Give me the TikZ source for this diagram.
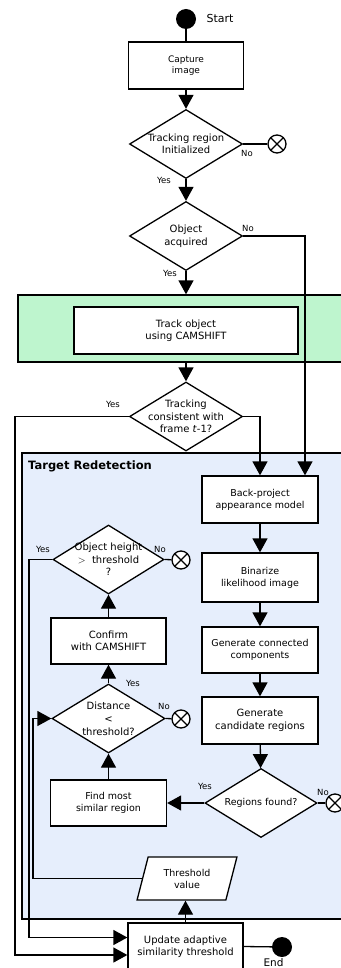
\documentclass[tikz,border=0pt]{standalone}
\usepackage{fontspec}
\setmainfont{DejaVu Sans}
\usetikzlibrary{arrows.meta,shapes.geometric}

\definecolor{zonegreen}{RGB}{190,245,206}
\definecolor{zoneblue}{RGB}{230,238,252}

\tikzset{
  link/.style={line width=1.3pt},
  flow/.style={line width=1.3pt, -{Triangle[length=14pt,width=15pt]}},
  stepbox/.style={draw, line width=1.3pt, fill=white, minimum width=116pt, minimum height=47pt,
    inner sep=0pt, align=center, font=\fontsize{9.5}{12}\selectfont},
  test/.style={draw, diamond, line width=1.3pt, fill=white, minimum width=113pt, minimum height=69pt,
    inner sep=0pt},
  testtext/.style={align=center, font=\fontsize{10}{12.5}\selectfont},
  term/.style={circle, fill=black, minimum size=20pt, inner sep=0pt},
  stopx/.style={circle, draw, line width=1.3pt, fill=white, minimum size=18pt, inner sep=0pt,
    path picture={\draw[line width=1.3pt]
      (path picture bounding box.north west) -- (path picture bounding box.south east)
      (path picture bounding box.north east) -- (path picture bounding box.south west);}},
  answer/.style={font=\fontsize{8.5}{9}\selectfont, inner sep=0pt},
}

\begin{document}
\begin{tikzpicture}[x=1pt, y=-1pt]
			\useasboundingbox (0,0) rectangle (340,968);

			% zones
			\node (trackzone) [draw, line width=1.3pt, fill=zonegreen, minimum width=332pt, minimum height=67pt] at (184,328.5) {};
			\node (redetect) [draw, line width=1.3pt, fill=zoneblue, minimum width=328pt, minimum height=466pt] at (186,686) {};
			\node (redetect-title) [anchor=west, inner sep=0pt, font=\fontsize{11.5}{13}\selectfont\bfseries] at (28,466) {Target Redetection};

			% main column
			\node (start) [term] at (186,19) {};
			\node (start-lbl) [font=\fontsize{11}{13}\selectfont] at (220,18) {Start};
			\node (capture) [stepbox, font=\fontsize{9}{11.5}\selectfont, minimum width=115pt] at (186,65.5) {Capture\\image};
			\node (d1) [test] at (186,144) {};
			\node (d1-txt) [testtext] at (d1) {Tracking region\\Initialized};
			\node (x1) [stopx] at (277,144) {};
			\node (d2) [test] at (186,236) {};
			\node (d2-txt) [testtext] at (d2) {Object\\acquired};
			\node (track) [stepbox, minimum width=224pt, font=\fontsize{10}{12.5}\selectfont] at (186,330.5) {Track object\\using CAMSHIFT};
			\node (d3) [test] at (186,416.5) {};
			\node (d3-txt) [testtext] at (d3) {Tracking\\consistent with\\frame \textit{t}-1?};
			\node (update) [stepbox, minimum width=115pt, font=\fontsize{10}{12.5}\selectfont] at (185.5,946.5) {Update adaptive\\similarity threshold};
			\node (end) [term] at (282,947) {};
			\node (end-lbl) [font=\fontsize{10.5}{12}\selectfont] at (273.5,963) {End};

			% right column
			\node (backproj) [stepbox] at (260,499.5) {Back-project\\appearance model};
			\node (binarize) [stepbox, minimum height=49pt] at (260,577.5) {Binarize\\likelihood image};
			\node (connected) [stepbox, minimum height=46pt] at (260,650) {Generate connected\\components};
			\node (candidate) [stepbox, font=\fontsize{10}{12.5}\selectfont] at (260,720.5) {Generate\\candidate regions};
			\node (d4) [test, minimum width=112pt] at (261,803) {};
			\node (d4-txt) [testtext, font=\fontsize{9.5}{12}\selectfont] at (d4) {Regions found?};
			\node (x4) [stopx] at (335,803) {};

			% left column
			\node (find) [stepbox, minimum height=46pt] at (108.5,803) {Find most\\similar region};
			\node (d5) [test] at (108.5,718.5) {};
			\node (d5-txt) [testtext, font=\fontsize{10}{13}\selectfont] at (d5) {Distance\\<\\threshold?};
			\node (x5) [stopx] at (181,719) {};
			\node (confirm) [stepbox, minimum width=115pt, minimum height=46pt, font=\fontsize{10}{12.5}\selectfont] at (108.5,641) {Confirm\\with CAMSHIFT};
			\node (d6) [test, minimum width=111pt] at (108.5,559.5) {};
			\node (d6-txt) [testtext] at (d6) {Object height\\$>$\ \ threshold\\?};
			\node (x6) [stopx] at (181,560) {};
			\node (thresh) [draw, line width=1.3pt, fill=white, trapezium, trapezium left angle=71, trapezium right angle=109,
				trapezium stretches=true, minimum width=100pt, minimum height=43pt, inner sep=0pt, align=center,
				font=\fontsize{9.5}{12}\selectfont] at (187,878.5) {Threshold\\value};

			% yes / no
			\node (no1) [answer] at (247,153) {No};
			\node (yes1) [answer] at (164,180) {Yes};
			\node (no2) [answer] at (248,228) {No};
			\node (yes2) [answer] at (170,273) {Yes};
			\node (yes3) [answer] at (113,404) {Yes};
			\node (yes6) [answer] at (43,549) {Yes};
			\node (no6) [answer] at (160,549) {No};
			\node (yes5) [answer] at (133,683) {Yes};
			\node (no5) [answer] at (164,706) {No};
			\node (yes4) [answer] at (205,786) {Yes};
			\node (no4) [answer] at (323,792) {No};

			% lanes on the left
			\coordinate (laneout) at (15,0);
			\coordinate (lanein) at (29,0);
			\coordinate (lanethr) at (33,0);
			\coordinate (upd-hi) at ([yshift=9pt]update.west);
			\coordinate (upd-lo) at ([yshift=-8.5pt]update.west);

			% connectors
			\draw [link] (start) -- (capture);
			\draw [flow] (capture) -- (d1);
			\draw [link] (d1.east) -- (x1);
			\draw [flow] (d1.south) -- (d2.north);
			\draw [flow] (d2.east) -| ([xshift=45pt]backproj.north);
			\draw [flow] (d2.south) -- (d2.south |- trackzone.north);
			\draw [flow] (trackzone.south -| d3.north) -- (d3.north);
			\draw [flow] (d3.east) -| (backproj.north);
			\draw [flow] (d3.west) -- (d3.west -| laneout) -- (upd-lo -| laneout) -- (upd-lo);
			\draw [flow] (backproj) -- (binarize);
			\draw [flow] (binarize) -- (connected);
			\draw [flow] (connected) -- (candidate);
			\draw [flow] (candidate) -- (d4);
			\draw [link] (d4.east) -- (x4);
			\draw [flow] (d4.west) -- (find.east);
			\draw [flow] (find.north) -- (d5.south);
			\draw [link] (d5.east) -- (x5);
			\draw [flow] (d5.north) -- (confirm.south);
			\draw [flow] (confirm.north) -- (d6.south);
			\draw [link] (d6.east) -- (x6);
			\draw [flow] (d6.west) -- (d6.west -| lanein) -- (upd-hi -| lanein) -- (upd-hi);
			\draw [flow] (thresh.west) -- (thresh.west -| lanethr) -- (d5.west -| lanethr) -- (d5.west);
			\draw [flow] (update.north) -- (update.north |- thresh.south);
			\draw [link] (update.east) -- (end);
			\end{tikzpicture}
\end{document}
